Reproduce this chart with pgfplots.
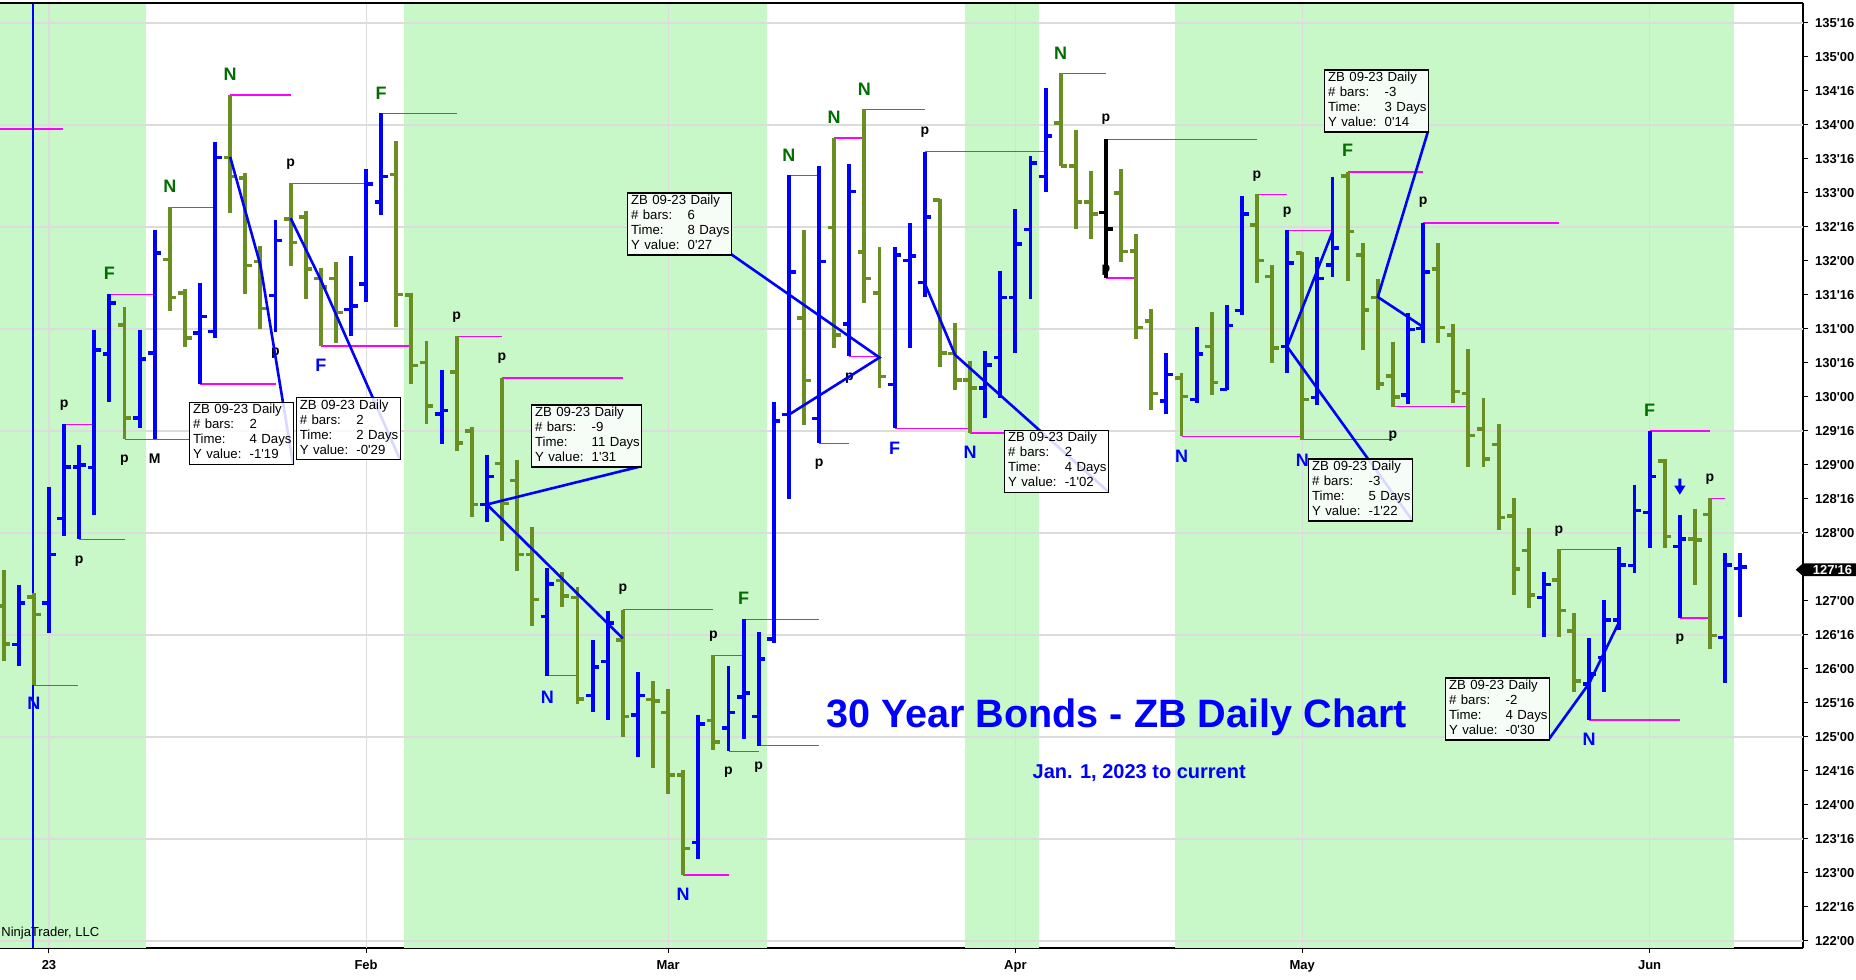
\documentclass[border=0pt]{standalone}
\usepackage{fontspec}
\setmainfont{Liberation Sans}[Ligatures=TeXOff]
\usepackage{pgfplots}
\pgfplotsset{compat=1.18}
\usepackage{pgfplotstable}
\definecolor{zbblue}{RGB}{0,0,255}
\definecolor{zbolive}{RGB}{107,142,35}
\definecolor{zbgreenbg}{RGB}{200,247,200}
\definecolor{zbgrid}{RGB}{220,220,220}
\definecolor{zbmag}{RGB}{255,0,255}
\definecolor{lblgreen}{RGB}{0,110,0}

% k o h l c  (k = trading-day index, 0 = 3 Jan 2023)
\pgfplotstableread{
k o h l c
-2 126.36 127.24 126.04 126.97
0 126.97 128.68 126.53 127.68
1 128.21 129.60 127.96 128.97
2 128.97 129.29 127.91 129.00
3 128.96 130.99 128.26 130.69
4 130.63 131.51 129.93 131.38
6 129.69 130.99 129.55 130.56
7 130.65 132.46 129.38 132.12
10 130.94 131.67 130.19 131.18
11 130.96 133.75 130.87 133.52
15 131.49 132.61 130.95 132.30
20 131.29 132.07 130.90 131.34
21 131.66 133.36 131.40 133.13
22 132.87 134.17 132.68 133.24
26 129.75 130.40 129.31 129.80
29 128.42 129.14 128.16 128.83
33 126.77 127.48 125.90 127.25
36 125.61 126.42 125.37 126.03
37 126.11 126.85 125.25 126.68
39 125.32 125.95 124.71 125.61
43 123.45 125.32 123.21 125.19
45 125.13 126.04 124.79 125.36
46 125.59 126.73 124.97 125.65
47 125.30 126.55 124.87 126.15
48 126.44 129.93 126.38 129.65
49 129.74 133.26 128.50 131.84
51 129.68 133.40 129.32 131.99
53 131.07 133.42 130.60 133.02
56 130.18 132.20 129.54 132.09
57 132.01 132.56 130.72 132.07
58 131.68 133.61 131.47 132.65
62 130.13 130.67 129.69 130.47
63 130.58 131.85 129.98 131.46
64 131.46 132.76 130.65 132.25
65 132.46 133.54 131.44 133.44
66 133.24 134.54 133.02 133.84
74 129.94 130.64 129.75 130.33
76 129.96 131.03 129.91 130.63
78 130.11 131.35 130.10 131.05
79 131.27 132.96 131.21 132.69
82 130.74 132.45 130.35 131.97
84 129.99 132.06 129.88 131.74
85 131.94 133.23 131.77 132.19
90 130.03 131.23 129.89 130.99
91 131.01 132.56 130.80 131.84
99 127.05 127.42 126.47 127.24
102 125.78 126.45 125.25 125.93
103 126.17 127.01 125.66 126.72
104 126.72 127.79 126.58 127.53
105 127.52 128.71 127.41 128.33
106 128.30 129.50 127.78 128.83
108 127.80 128.26 126.75 127.91
111 126.46 127.70 125.80 127.53
112 127.48 127.70 126.77 127.50
}\bluetab

\pgfplotstableread{
k o h l c
-3 126.93 127.46 126.12 126.37
-1 127.06 127.12 125.76 126.80
5 131.06 131.32 129.38 129.69
8 132.02 132.79 131.27 131.46
9 131.53 131.59 130.74 130.87
12 133.52 134.44 132.71 133.24
13 133.22 133.30 131.52 131.93
14 131.99 132.22 131.00 131.30
16 132.62 133.14 131.93 132.27
17 132.65 132.73 131.44 131.88
18 131.74 131.89 130.75 131.62
19 131.74 131.98 130.80 131.24
23 133.27 133.76 131.03 131.51
24 131.50 131.53 130.19 130.46
25 130.51 130.82 129.60 129.87
27 130.37 130.89 129.21 129.32
28 129.50 129.56 128.24 128.42
30 129.02 130.28 127.88 128.43
31 128.77 129.07 127.44 127.68
32 127.68 128.09 126.63 127.02
34 127.30 127.42 126.91 127.07
35 127.05 127.20 125.48 125.56
38 126.43 126.87 125.00 125.30
40 125.55 125.82 124.55 125.53
41 125.36 125.70 124.16 124.44
42 124.44 124.52 122.97 123.36
44 125.24 126.20 124.81 124.93
50 131.16 132.46 129.59 130.24
52 132.49 133.81 130.72 130.91
54 132.13 134.23 131.38 131.74
55 131.53 132.20 130.13 130.30
59 132.90 132.91 130.44 130.65
60 130.64 131.09 130.10 130.25
61 130.25 130.53 129.47 130.13
67 134.03 134.76 133.39 133.40
68 133.40 133.93 132.47 132.87
69 132.87 133.32 132.32 132.69
71 133.00 133.36 131.98 132.14
72 132.15 132.39 130.85 131.02
73 131.12 131.29 129.81 130.05
75 130.28 130.35 129.42 130.01
77 130.74 131.25 130.03 130.21
80 132.53 132.98 131.68 132.01
81 131.77 131.94 130.50 130.72
83 132.12 132.13 129.37 129.96
86 133.25 133.31 131.71 132.43
87 132.09 132.27 130.69 131.28
88 131.46 131.73 130.10 130.19
89 130.31 130.81 129.86 130.00
92 131.88 132.26 130.80 131.02
93 130.91 131.07 129.91 130.08
94 130.05 130.70 128.97 129.43
95 129.53 129.98 128.97 129.09
96 129.30 129.60 128.05 128.23
97 128.25 128.51 127.09 127.47
98 127.74 128.07 126.90 127.09
100 127.31 127.76 126.47 126.86
101 126.56 126.82 125.66 125.82
107 129.06 129.09 127.78 127.95
109 127.91 128.35 127.24 127.90
110 128.27 128.51 126.30 126.49
}\greentab

\pgfplotstableread{
k o h l c
70 132.71 133.79 131.75 132.47
}\blacktab

% magenta extreme lines: start k, level, length (bars)
\pgfplotstableread{
k v len
-3.245 133.94 4.18
-1 125.76 2.9
1 129.60 2.0
2 127.91 3.0
4 131.51 3.0
5 129.38 4.27
8 132.79 3.0
10 130.19 5.0
12 134.44 4.0
16 133.14 5.0
18 130.75 6.0
22 134.17 5.0
27 130.89 3.0
30 130.28 8.0
33 125.90 2.0
38 126.87 6.0
42 122.97 3.0
44 126.20 2.0
45 124.79 2.0
46 126.73 5.0
47 124.87 4.0
49 133.26 2.0
51 129.32 2.0
52 133.81 2.0
53 130.60 2.0
54 134.23 4.0
56 129.54 5.0
58 133.61 8.0
61 129.47 2.4
67 134.76 3.0
70 133.79 10.0
70 131.75 2.0
75 129.42 8.0
80 132.98 2.0
82 132.45 3.0
83 129.37 6.0
86 133.31 5.0
89 129.86 5.0
91 132.56 9.0
100 127.76 4.0
102 125.25 6.0
106 129.50 4.0
108 126.75 2.0
110 128.51 1.0
}\magtab

\newcommand\ohlc[2]{%
  \addplot[draw=none, mark=none, forget plot, error bars/.cd, y dir=minus, y explicit, error mark=none,
    error bar style={draw=#1, line width=1.95pt}]
    table[x=k, y=h, y error expr=\thisrow{h}-\thisrow{l}] {#2};
  \addplot[draw=none, mark=none, forget plot, error bars/.cd, x dir=minus, x fixed=0.44, error mark=none,
    error bar style={draw=#1, line width=1.75pt}]
    table[x=k, y=o] {#2};
  \addplot[draw=none, mark=none, forget plot, error bars/.cd, x dir=plus, x fixed=0.44, error mark=none,
    error bar style={draw=#1, line width=1.75pt}]
    table[x=k, y=c] {#2};
}

\newcommand\zbbox[6][48.6pt]{%
  \node[anchor=north west, draw=black, line width=0.7pt, fill=white, fill opacity=0.85, text opacity=1,
    inner xsep=1.7pt, inner ysep=0.5pt, text width=#1, font=\fontsize{6.6}{7.5}\selectfont]
    at (axis cs:#2,#3) {\begin{tabular}{@{}p{28.3pt}@{}l@{}}\multicolumn{2}{@{}l@{}}{ZB 09-23 Daily}\\
    \# bars: & #4\\ Time: & #5\\ Y value: & #6\end{tabular}};}

\newcommand\lblg[3]{\node[font=\fontsize{9}{9}\selectfont\bfseries, text=lblgreen] at (axis cs:#1,#2) {#3};}
\newcommand\lblb[3]{\node[font=\fontsize{9}{9}\selectfont\bfseries, text=zbblue] at (axis cs:#1,#2) {#3};}
\newcommand\lblp[3]{\node[font=\fontsize{7}{7}\selectfont\bfseries, text=black] at (axis cs:#1,#2) {#3};}

\begin{document}
\begin{tikzpicture}
\begin{axis}[
  at={(0pt,15.5pt)}, anchor=south west,
  scale only axis, width=901.5pt, height=472.5pt,
  xmin=-3.245, xmax=116.16, ymin=121.897, ymax=135.794,
  axis x line*=bottom, axis y line*=right,
  axis line style={black, line width=0.7pt},
  tick align=outside, major tick length=2.5pt,
  tick style={black, line width=0.5pt},
  xtick={0,21,41,64,83,106}, xticklabels={23,Feb,Mar,Apr,May,Jun},
  ytick={122,122.5,123,123.5,124,124.5,125,125.5,126,126.5,127,127.5,128,128.5,129,129.5,130,130.5,131,131.5,132,132.5,133,133.5,134,134.5,135,135.5},
  yticklabels={122'00,122'16,123'00,123'16,124'00,124'16,125'00,125'16,126'00,126'16,127'00,,128'00,128'16,129'00,129'16,130'00,130'16,131'00,131'16,132'00,132'16,133'00,133'16,134'00,134'16,135'00,135'16},
  ticklabel style={font=\fontsize{6.5}{7.8}\selectfont\bfseries},
  minor tick num=0,
]
% background bands
\addplot[fill=zbgreenbg, draw=none, forget plot] coordinates {(-3.245,121.897) (6.40,121.897) (6.40,135.794) (-3.245,135.794)} -- cycle;
\addplot[fill=zbgreenbg, draw=none, forget plot] coordinates {(23.48,121.897) (47.53,121.897) (47.53,135.794) (23.48,135.794)} -- cycle;
\addplot[fill=zbgreenbg, draw=none, forget plot] coordinates {(60.63,121.897) (65.56,121.897) (65.56,135.794) (60.63,135.794)} -- cycle;
\addplot[fill=zbgreenbg, draw=none, forget plot] coordinates {(74.57,121.897) (111.57,121.897) (111.57,135.794) (74.57,135.794)} -- cycle;
% grid
\pgfplotsinvokeforeach{122,123.5,125,126.5,128,129.5,131,132.5,134,135.5}{
  \addplot[zbgrid, line width=0.6pt, forget plot] coordinates {(-3.245,#1) (116.16,#1)};}
\pgfplotsinvokeforeach{0,21,41,64,83,106}{
  \addplot[zbgrid, line width=0.6pt, forget plot] coordinates {(#1,121.897) (#1,135.794)};}
% magenta extreme lines
\addplot[draw=none, mark=none, forget plot, error bars/.cd, x dir=plus, x explicit, error mark=none,
  error bar style={draw=zbmag, line width=0.6pt}] table[x=k, y=v, x error=len] {\magtab};
% vertical marker line
\addplot[zbblue, line width=1pt, forget plot] coordinates {(-1.06,121.897) (-1.06,135.794)};
% bars
\ohlc{zbolive}{\greentab}
\ohlc{zbblue}{\bluetab}
\ohlc{black}{\blacktab}
% labels
\lblg{4}{131.82}{F}\lblg{8}{133.10}{N}\lblg{12}{134.75}{N}\lblg{22}{134.47}{F}\lblg{46}{127.04}{F}
\lblg{49}{133.56}{N}\lblg{52}{134.12}{N}\lblg{54}{134.53}{N}\lblg{67}{135.06}{N}\lblg{86}{133.63}{F}\lblg{106}{129.80}{F}
\lblb{-1}{125.5}{N}\lblb{18}{130.47}{F}\lblb{33}{125.59}{N}\lblb{42}{122.69}{N}\lblb{56}{129.25}{F}
\lblb{61}{129.19}{N}\lblb{75}{129.13}{N}\lblb{83}{129.07}{N}\lblb{102}{124.97}{N}
\lblp{1}{129.88}{p}\lblp{2}{127.59}{p}\lblp{5}{129.07}{p}\lblp{7}{129.09}{M}\lblp{16}{133.43}{p}\lblp{15}{130.65}{p}
\lblp{27}{131.17}{p}\lblp{30}{130.57}{p}\lblp{38}{127.17}{p}\lblp{44}{126.48}{p}\lblp{45}{124.48}{p}\lblp{47}{124.56}{p}
\lblp{51}{129.01}{p}\lblp{53}{130.28}{p}\lblp{58}{133.89}{p}\lblp{70}{134.09}{p}\lblp{70}{131.87}{p}\lblp{80}{133.25}{p}
\lblp{82}{132.72}{p}\lblp{89}{129.43}{p}\lblp{91}{132.86}{p}\lblp{100}{128.03}{p}\lblp{108}{126.44}{p}\lblp{110}{128.79}{p}
\fill[zbblue] (axis cs:108,128.68) ++(-0.75pt,4pt) -- ++(1.5pt,0pt) -- ++(0pt,-3.5pt) -- ++(2pt,0pt) -- ++(-2.75pt,-4.5pt) -- ++(-2.75pt,4.5pt) -- ++(2pt,0pt) -- cycle;
% rulers
\draw[zbblue, line width=1.3pt] (axis cs:12,133.53) -- (axis cs:14,131.94) -- (axis cs:16.16,129.02);
\draw[zbblue, line width=1.3pt] (axis cs:16,132.63) -- (axis cs:18,131.72) -- (axis cs:23.23,129.09);
\draw[zbblue, line width=1.3pt] (axis cs:38,126.45) -- (axis cs:29,128.42) -- (axis cs:39.2,128.98);
\draw[zbblue, line width=1.3pt] (axis cs:49,129.74) -- (axis cs:55,130.58) -- (axis cs:45.17,132.10);
\draw[zbblue, line width=1.3pt] (axis cs:58,131.67) -- (axis cs:60,130.62) -- (axis cs:70.14,128.61);
\draw[zbblue, line width=1.3pt] (axis cs:85,132.43) -- (axis cs:82,130.74) -- (axis cs:90.27,128.19);
\draw[zbblue, line width=1.3pt] (axis cs:91,131.03) -- (axis cs:88,131.47) -- (axis cs:91.33,133.91);
\draw[zbblue, line width=1.3pt] (axis cs:104,126.70) -- (axis cs:102,125.79) -- (axis cs:99.34,124.97);
\zbbox{9.27}{129.93}{2}{4 Days}{-1'19}
\zbbox{16.34}{130.00}{2}{2 Days}{-0'29}
\zbbox[51.6pt]{31.92}{129.89}{-9}{11 Days}{1'31}
\zbbox{38.28}{133.01}{6}{8 Days}{0'27}
\zbbox{63.25}{129.52}{2}{4 Days}{-1'02}
\zbbox{83.38}{129.10}{-3}{5 Days}{-1'22}
\zbbox{84.44}{134.82}{-3}{3 Days}{0'14}
\zbbox{92.45}{125.88}{-2}{4 Days}{-0'30}
% titles
\node[text=zbblue, font=\fontsize{19.8}{20}\selectfont\bfseries] at (axis cs:70.7,125.29) {30 Year Bonds - ZB Daily Chart};
\node[text=zbblue, font=\fontsize{10}{10}\selectfont\bfseries] at (axis cs:72.2,124.47) {Jan. 1, 2023 to current};
\node[anchor=west, inner sep=0.5pt, font=\fontsize{6.5}{7}\selectfont] at (axis cs:-3.245,122.12) {NinjaTrader, LLC};
\coordinate (pm) at (axis cs:116.16,127.46);
\end{axis}
\draw[black, line width=0.6pt] (current axis.north west) -- (current axis.north east);
\fill[black] (pm) ++(-3.65pt,0pt) -- ++(3.65pt,3.2pt) -- ++(26.4pt,0pt) -- ++(0pt,-6.4pt) -- ++(-26.4pt,0pt) -- cycle;
\node[anchor=west, text=white, inner sep=0pt, font=\fontsize{6.5}{7.8}\selectfont\bfseries] at ([xshift=4.7pt]pm) {127'16};
\pgfresetboundingbox
\path[use as bounding box] (0,0) rectangle (928pt,489.5pt);
\end{tikzpicture}
\end{document}
